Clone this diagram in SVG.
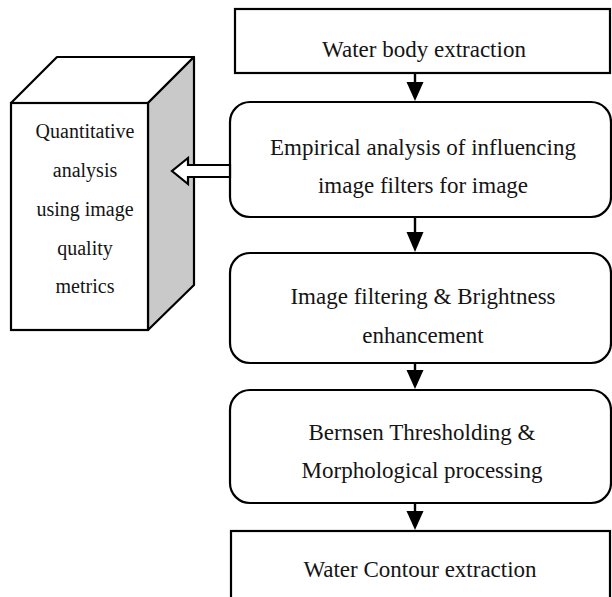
<svg xmlns="http://www.w3.org/2000/svg" width="612" height="597" viewBox="0 0 612 597">
<defs>
<style>
.box{fill:#fff;stroke:#000;stroke-width:2.2}
.face{fill:#fff;stroke:#000;stroke-width:2.2;stroke-linejoin:round}
.shade{fill:#c9c9c9;stroke:#000;stroke-width:2.2;stroke-linejoin:round}
.ln{stroke:#000;stroke-width:2.4;fill:none}
.hd{fill:#000;stroke:none}
</style>
</defs>
<rect width="612" height="597" fill="#fff"/>
<g id="n-quant" font-family="Liberation Serif, serif" font-size="20" fill="#141414" text-anchor="middle">
<polygon class="face" points="11,103 57,57 194,57 148,103"/>
<polygon class="shade" points="148,103 194,57 194,285 148,330"/>
<rect class="box" x="11" y="103" width="137" height="227"/>
<text x="85" y="138">Quantitative</text>
<text x="85" y="177">analysis</text>
<text x="85" y="216">using image</text>
<text x="85" y="255">quality</text>
<text x="85" y="293">metrics</text>
</g>
<g id="n-water-body" font-family="Liberation Serif, serif" font-size="23" fill="#141414" text-anchor="middle">
<rect class="box" x="235" y="9" width="375" height="64"/>
<text x="424" y="57">Water body extraction</text>
</g>
<g id="n-empirical" font-family="Liberation Serif, serif" font-size="23" fill="#141414" text-anchor="middle">
<rect class="box" x="230" y="102" width="381" height="115" rx="20" ry="20"/>
<text x="423" y="155">Empirical analysis of influencing</text>
<text x="423" y="193">image filters for image</text>
</g>
<g id="n-filtering" font-family="Liberation Serif, serif" font-size="23" fill="#141414" text-anchor="middle">
<rect class="box" x="230" y="253" width="381" height="110" rx="20" ry="20"/>
<text x="423" y="304">Image filtering &amp; Brightness</text>
<text x="423" y="343">enhancement</text>
</g>
<g id="n-bernsen" font-family="Liberation Serif, serif" font-size="23" fill="#141414" text-anchor="middle">
<rect class="box" x="230" y="390" width="381" height="113" rx="20" ry="20"/>
<text x="422" y="440">Bernsen Thresholding &amp;</text>
<text x="422" y="478">Morphological processing</text>
</g>
<g id="n-contour" font-family="Liberation Serif, serif" font-size="23" fill="#141414" text-anchor="middle">
<rect class="box" x="231" y="531" width="379" height="90"/>
<text x="420" y="577">Water Contour extraction</text>
</g>
<g id="connectors">
<line class="ln" x1="415" y1="73" x2="415" y2="84"/>
<polygon class="hd" points="406.5,82 423.5,82 415,101"/>
<line class="ln" x1="415" y1="217" x2="415" y2="234"/>
<polygon class="hd" points="406.5,232 423.5,232 415,252"/>
<line class="ln" x1="415" y1="363" x2="415" y2="372"/>
<polygon class="hd" points="406.5,370 423.5,370 415,389"/>
<line class="ln" x1="415" y1="503" x2="415" y2="513"/>
<polygon class="hd" points="406.5,511 423.5,511 415,530"/>
<polygon fill="#fff" stroke="#000" stroke-width="2.2" stroke-linejoin="miter" points="230,165 188,165 188,158 172,171 188,184 188,177 230,177"/>
</g>
</svg>
